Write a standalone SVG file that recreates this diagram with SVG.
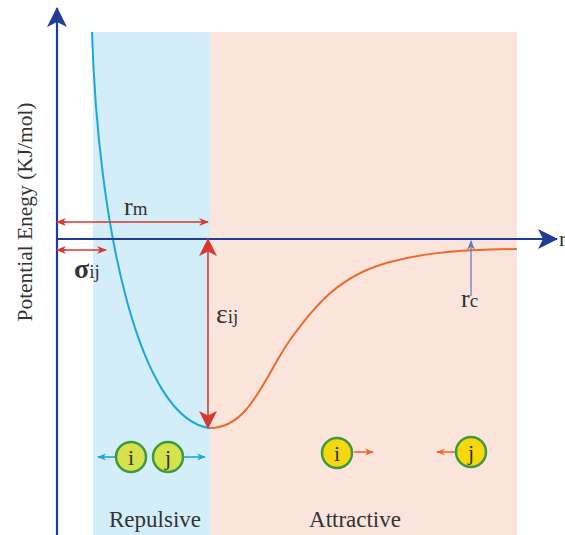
<svg xmlns="http://www.w3.org/2000/svg" width="565" height="535" viewBox="0 0 565 535">
<defs>
<style>
text{font-family:"Liberation Serif","Times New Roman","DejaVu Serif",serif;fill:#333;}
.axis{stroke:#1f3d96;stroke-width:2.2;fill:none;}
.red{stroke:#d9382e;stroke-width:1.6;fill:none;}
.p1{fill:#d6e24c;stroke:#3b9a3e;stroke-width:2.5;}
.p2{fill:#f7d80e;stroke:#3b9a3e;stroke-width:2.5;}
</style>
<marker id="axb" viewBox="0 0 20 20" refX="19" refY="10" markerWidth="20" markerHeight="20" markerUnits="userSpaceOnUse" orient="auto"><path d="M0,0 L20,10 L0,20 L5,10 Z" fill="#1f3d96"/></marker>
<marker id="ra" viewBox="0 0 10 10" refX="9" refY="5" markerWidth="10" markerHeight="10" markerUnits="userSpaceOnUse" orient="auto"><path d="M0,1 L10,5 L0,9 L3,5 Z" fill="#d9382e"/></marker>
<marker id="rb" viewBox="0 0 20 20" refX="19" refY="10" markerWidth="18" markerHeight="18" markerUnits="userSpaceOnUse" orient="auto"><path d="M0,0 L20,10 L0,20 L5,10 Z" fill="#d9382e"/></marker>
<marker id="oa" viewBox="0 0 10 10" refX="9" refY="5" markerWidth="9" markerHeight="9" markerUnits="userSpaceOnUse" orient="auto"><path d="M0,1 L10,5 L0,9 L3,5 Z" fill="#ee6a2a"/></marker>
<marker id="ba" viewBox="0 0 10 10" refX="9" refY="5" markerWidth="9" markerHeight="9" markerUnits="userSpaceOnUse" orient="auto"><path d="M0,1 L10,5 L0,9 L3,5 Z" fill="#1aa7df"/></marker>
<marker id="ga" viewBox="0 0 10 10" refX="9" refY="5" markerWidth="10" markerHeight="10" markerUnits="userSpaceOnUse" orient="auto"><path d="M0,1 L10,5 L0,9 L3,5 Z" fill="#6a80b4"/></marker>
</defs>
<rect width="565" height="535" fill="#fff"/>
<g id="regions">
<rect x="93" y="32" width="117" height="503" fill="#d4eef9"/>
<rect x="210" y="32" width="307" height="503" fill="#fbe4dc"/>
</g>
<g id="curves">
<path d="M92,32 C98,230 140,420 210,428" fill="none" stroke="#1aa7df" stroke-width="2"/>
<path d="M210,428 C250,428 265,375 290,340 C315,305 340,275 390,262 C420,254 450,250 517,249" fill="none" stroke="#ee6a2a" stroke-width="2"/>
</g>
<g id="connectors">
<line class="axis" x1="57" y1="535" x2="57" y2="8" marker-end="url(#axb)"/>
<line class="axis" x1="57" y1="239" x2="557" y2="239" marker-end="url(#axb)"/>
<line class="red" x1="66" y1="222" x2="57" y2="222" marker-end="url(#ra)"/>
<line class="red" x1="60" y1="222" x2="208" y2="222" marker-end="url(#ra)"/>
<line class="red" x1="66" y1="250" x2="57" y2="250" marker-end="url(#ra)"/>
<line class="red" x1="60" y1="250" x2="106" y2="250" marker-end="url(#ra)"/>
<line class="red" x1="208" y1="300" x2="208" y2="239" marker-end="url(#rb)"/>
<line class="red" x1="208" y1="300" x2="208" y2="428" marker-end="url(#rb)"/>
<line x1="471" y1="296" x2="471" y2="241" stroke="#6a80b4" stroke-width="1.3" marker-end="url(#ga)"/>
<line x1="115" y1="457" x2="98" y2="457" stroke="#1aa7df" stroke-width="1.6" marker-end="url(#ba)"/>
<line x1="184" y1="457" x2="205" y2="457" stroke="#1aa7df" stroke-width="1.6" marker-end="url(#ba)"/>
<line x1="354" y1="452" x2="373" y2="452" stroke="#ee6a2a" stroke-width="1.6" marker-end="url(#oa)"/>
<line x1="455" y1="452" x2="437" y2="452" stroke="#ee6a2a" stroke-width="1.6" marker-end="url(#oa)"/>
</g>
<g id="labels" font-family="Liberation Serif, serif">
<text x="32" y="212" font-size="22" text-anchor="middle" textLength="219" lengthAdjust="spacingAndGlyphs" transform="rotate(-90 32 212)">Potential Enegy (KJ/mol)</text>
<text x="559" y="246" font-size="22">r</text>
<text x="124" y="215" font-size="26">r<tspan font-size="19">m</tspan></text>
<text x="74" y="278" font-size="28" font-weight="bold">σ<tspan font-size="19" font-weight="normal">ij</tspan></text>
<text x="216" y="323" font-size="28">ε<tspan font-size="19">ij</tspan></text>
<text x="461" y="307" font-size="26">r<tspan font-size="19">c</tspan></text>
<text x="155" y="527" font-size="23" text-anchor="middle">Repulsive</text>
<text x="355" y="527" font-size="23" text-anchor="middle">Attractive</text>
</g>
<g id="particle-i-rep" font-family="Liberation Serif, serif"><circle class="p1" cx="131" cy="457" r="15"/><text x="131" y="465" font-size="22" text-anchor="middle">i</text></g>
<g id="particle-j-rep" font-family="Liberation Serif, serif"><circle class="p1" cx="168" cy="457" r="15"/><text x="168" y="465" font-size="22" text-anchor="middle">j</text></g>
<g id="particle-i-att" font-family="Liberation Serif, serif"><circle class="p2" cx="337" cy="453" r="15"/><text x="337" y="461" font-size="22" text-anchor="middle">i</text></g>
<g id="particle-j-att" font-family="Liberation Serif, serif"><circle class="p2" cx="471" cy="452" r="15"/><text x="471" y="460" font-size="22" text-anchor="middle">j</text></g>
</svg>
